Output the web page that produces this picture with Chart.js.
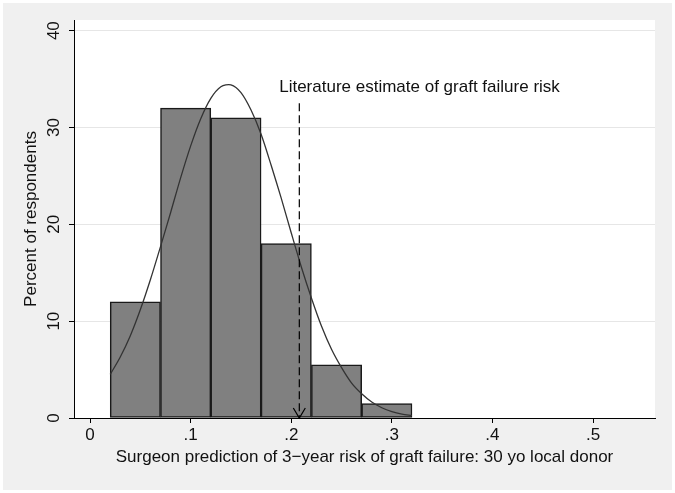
<!DOCTYPE html>
<html>
<head>
<meta charset="utf-8">
<script src="https://cdn.jsdelivr.net/npm/chart.js@4.4.1/dist/chart.umd.min.js"></script>
<style>
  html, body { margin: 0; padding: 0; background: #ffffff; }
  #wrap { width: 675px; height: 493px; }
</style>
</head>
<body>
<div id="wrap"><canvas id="c" width="675" height="493"></canvas></div>
<script>
// ---- data ----
const binStarts = [0.02, 0.07, 0.12, 0.17, 0.22, 0.27];
const binWidth = 0.05;
const percents = [12, 32, 31, 18, 5.5, 1.5];

const curveX = [0.02, 0.03, 0.04, 0.05, 0.06, 0.07, 0.08, 0.09, 0.10, 0.11, 0.12, 0.13, 0.14, 0.15, 0.16, 0.17,
                0.18, 0.19, 0.20, 0.21, 0.22, 0.23, 0.24, 0.25, 0.26, 0.27, 0.28, 0.29, 0.30, 0.31, 0.32];
const curveY = [4.5, 6.3, 8.5, 11.2, 14.3, 17.7, 21.2, 24.8, 28.1, 30.9, 33.0, 34.2, 34.4, 33.6, 31.8, 29.3,
                26.1, 22.7, 19.1, 15.6, 12.4, 9.5, 7.1, 5.2, 3.6, 2.5, 1.65, 1.06, 0.66, 0.40, 0.24];

const literatureX = 0.208;
const literatureTop = 32.5;
const literatureLabel = 'Literature estimate of graft failure risk';
const literatureLabelPos = { x: 0.188, y: 34.1 };

const xTickValues = [0, 0.1, 0.2, 0.3, 0.4, 0.5];
const xTickLabels = ['0', '.1', '.2', '.3', '.4', '.5'];
const yTickValues = [0, 10, 20, 30, 40];
const yTickLabels = ['0', '10', '20', '30', '40'];

const xTitle = 'Surgeon prediction of 3\u2212year risk of graft failure: 30 yo local donor';
const yTitle = 'Percent of respondents';

// ---- build datasets ----
const barData = binStarts.map((s, i) => ({ x: s + binWidth / 2, y: percents[i] }));
const curveData = curveX.map((x, i) => ({ x: x, y: curveY[i] }));
const refLineData = [{ x: literatureX, y: literatureTop }, { x: literatureX, y: 0 }];

const FONT = "'Liberation Sans', Arial, Helvetica, sans-serif";
const FS = 17;

const bgPlugin = {
  id: 'bg',
  beforeDraw(chart) {
    const { ctx, chartArea: a } = chart;
    ctx.save();
    ctx.fillStyle = '#ffffff';
    ctx.fillRect(0, 0, chart.width, chart.height);
    ctx.fillStyle = '#f0f0f0';
    ctx.fillRect(3, 3, chart.width - 6, chart.height - 6);
    ctx.fillStyle = '#ffffff';
    ctx.fillRect(a.left, a.top, a.right - a.left, a.bottom - a.top);
    ctx.restore();
  },
  afterDatasetsDraw(chart) {
    const { ctx } = chart;
    const xs = chart.scales.x, ys = chart.scales.y;
    const px = xs.getPixelForValue(literatureX);
    const py = ys.getPixelForValue(0);
    ctx.save();
    ctx.strokeStyle = '#000000';
    ctx.lineWidth = 1.2;
    ctx.beginPath();
    ctx.moveTo(px - 6, py - 10);
    ctx.lineTo(px, py);
    ctx.lineTo(px + 6, py - 10);
    ctx.stroke();
    ctx.fillStyle = '#111111';
    ctx.font = FS + 'px ' + FONT;
    ctx.textAlign = 'left';
    ctx.textBaseline = 'middle';
    ctx.fillText(literatureLabel, xs.getPixelForValue(literatureLabelPos.x), ys.getPixelForValue(literatureLabelPos.y));
    ctx.restore();
  }
};

new Chart(document.getElementById('c'), {
  type: 'bar',
  data: {
    datasets: [
      {
        type: 'line',
        data: refLineData,
        borderColor: '#000000',
        borderWidth: 1.2,
        borderDash: [8, 4],
        pointRadius: 0,
        fill: false,
        order: 0
      },
      {
        type: 'line',
        data: curveData,
        borderColor: '#333333',
        borderWidth: 1.3,
        pointRadius: 0,
        tension: 0.3,
        fill: false,
        order: 1
      },
      {
        type: 'bar',
        data: barData,
        backgroundColor: '#808080',
        borderColor: '#1a1a1a',
        borderWidth: 1.5,
        borderSkipped: false,
        barPercentage: 1.0,
        categoryPercentage: 1.0,
        grouped: false,
        order: 3
      }
    ]
  },
  options: {
    responsive: false,
    animation: false,
    events: [],
    layout: { padding: { left: 0, right: 20, top: 20, bottom: 0 } },
    plugins: { legend: { display: false }, tooltip: { enabled: false } },
    scales: {
      x: {
        type: 'linear',
        min: -0.016,
        max: 0.5616,
        offset: false,
        afterBuildTicks(s) { s.ticks = xTickValues.map(v => ({ value: v })); },
        afterFit(s) { s.height = 75; },
        ticks: {
          callback(v) { const i = xTickValues.indexOf(v); return i >= 0 ? xTickLabels[i] : ''; },
          font: { family: FONT, size: FS },
          color: '#111111',
          padding: 2,
          maxRotation: 0,
          minRotation: 0
        },
        grid: { offset: false, drawOnChartArea: false, drawTicks: true, tickLength: 5, tickColor: '#000000', tickWidth: 1 },
        border: { display: true, color: '#000000', width: 1 },
        title: {
          display: true,
          text: xTitle,
          font: { family: FONT, size: FS },
          color: '#111111',
          padding: { top: 0, bottom: 25.5 }
        }
      },
      y: {
        type: 'linear',
        min: 0,
        max: 41.1,
        afterBuildTicks(s) { s.ticks = yTickValues.map(v => ({ value: v })); },
        afterFit(s) { s.width = 74; },
        ticks: {
          callback(v) { const i = yTickValues.indexOf(v); return i >= 0 ? yTickLabels[i] : ''; },
          font: { family: FONT, size: FS },
          color: '#111111',
          padding: 5.5,
          crossAlign: 'center',
          minRotation: 90,
          maxRotation: 90
        },
        grid: {
          color(ctx) { return ctx.tick && ctx.tick.value === 0 ? 'rgba(0,0,0,0)' : '#e6e6e6'; },
          lineWidth: 1,
          drawTicks: true,
          tickLength: 5,
          tickColor: '#000000',
          tickWidth: 1
        },
        border: { display: true, color: '#000000', width: 1 },
        title: {
          display: true,
          text: yTitle,
          font: { family: FONT, size: FS },
          color: '#111111',
          padding: { top: 21.5, bottom: 0 }
        }
      }
    }
  },
  plugins: [bgPlugin]
});
</script>
</body>
</html>
